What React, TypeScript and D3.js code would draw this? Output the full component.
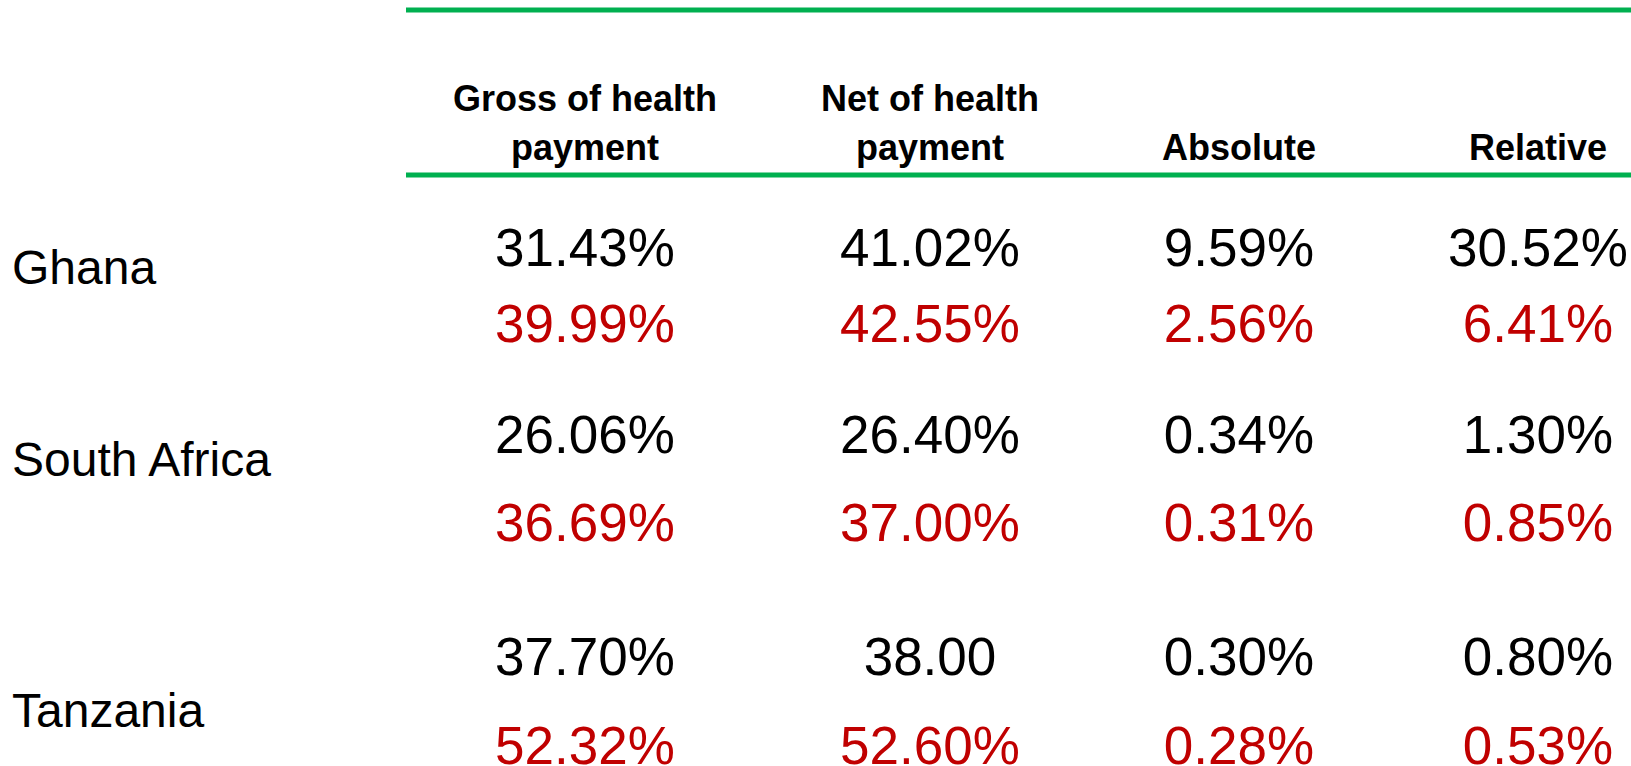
import React from "react";
import * as d3 from "d3";

const countries = ["Ghana", "South Africa", "Tanzania"];
const columns = ["Gross of health payment", "Net of health payment", "Absolute", "Relative"];
const headerLines = [["Gross of health", "payment"], ["Net of health", "payment"], ["", "Absolute"], ["", "Relative"]];

// first (black) series per country: gross, net, absolute, relative
const seriesA = [
  ["31.43%", "41.02%", "9.59%", "30.52%"],
  ["26.06%", "26.40%", "0.34%", "1.30%"],
  ["37.70%", "38.00", "0.30%", "0.80%"],
];
// second (red) series per country
const seriesB = [
  ["39.99%", "42.55%", "2.56%", "6.41%"],
  ["36.69%", "37.00%", "0.31%", "0.85%"],
  ["52.32%", "52.60%", "0.28%", "0.53%"],
];

const W = 1631;
const H = 766;
const GREEN = "#00B050";
const RED = "#C00000";
const FONT = "'Liberation Sans', Arial, Helvetica, sans-serif";

export default function App() {
  const colX = d3.scaleOrdinal<string, number>().domain(columns).range([585, 930, 1239, 1538]);
  const rowA = d3.scaleOrdinal<string, number>().domain(countries).range([266, 453, 675]);
  const rowB = d3.scaleOrdinal<string, number>().domain(countries).range([342, 541, 764]);
  const rowLabel = d3.scaleOrdinal<string, number>().domain(countries).range([284, 476, 727]);
  const headerY = d3.scaleOrdinal<number, number>().domain([0, 1]).range([111, 160]);

  return (
    <svg
      width={W}
      height={H}
      style={{ position: "absolute", left: 0, top: 0, background: "#fff" }}
      fontFamily={FONT}
    >
      <rect x={0} y={0} width={W} height={H} fill="#fff" />
      <line x1={406} x2={W} y1={10} y2={10} stroke={GREEN} strokeWidth={5} />
      <line x1={406} x2={W} y1={175} y2={175} stroke={GREEN} strokeWidth={5} />
      {columns.map((c, ci) => (
        <g key={c}>
          {headerLines[ci].map((t, li) =>
            t ? (
              <text
                key={li}
                x={colX(c)}
                y={headerY(li)}
                textAnchor="middle"
                fontSize={36}
                fontWeight="bold"
                fill="#000"
              >
                {t}
              </text>
            ) : null
          )}
        </g>
      ))}
      {countries.map((country, ri) => (
        <g key={country}>
          <text x={12} y={rowLabel(country)} fontSize={48} fill="#000">
            {country}
          </text>
          {columns.map((c, ci) => (
            <text key={"a" + ci} x={colX(c)} y={rowA(country)} textAnchor="middle" fontSize={53} fill="#000">
              {seriesA[ri][ci]}
            </text>
          ))}
          {columns.map((c, ci) => (
            <text key={"b" + ci} x={colX(c)} y={rowB(country)} textAnchor="middle" fontSize={53} fill={RED}>
              {seriesB[ri][ci]}
            </text>
          ))}
        </g>
      ))}
    </svg>
  );
}
